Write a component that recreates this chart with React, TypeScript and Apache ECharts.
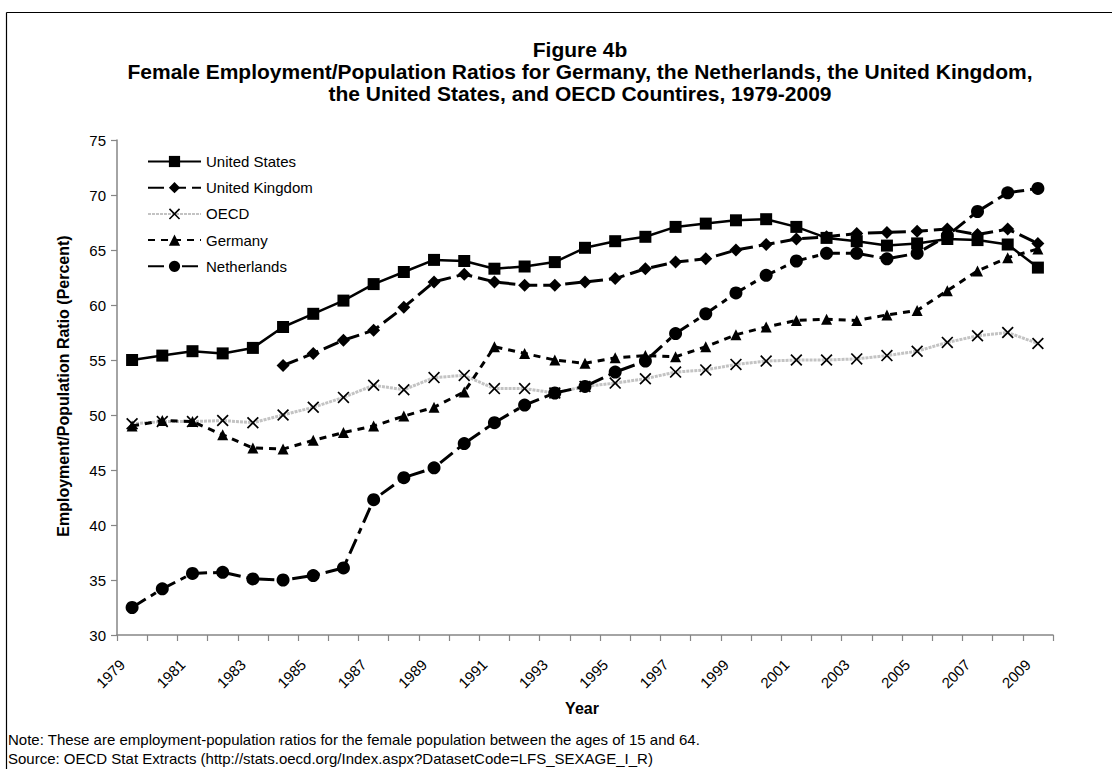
import React, { useEffect, useRef } from "react";
import * as echarts from "echarts";

const years = [
  "1979", "1980", "1981", "1982", "1983", "1984", "1985", "1986", "1987", "1988",
  "1989", "1990", "1991", "1992", "1993", "1994", "1995", "1996", "1997", "1998",
  "1999", "2000", "2001", "2002", "2003", "2004", "2005", "2006", "2007", "2008", "2009",
];

const unitedStates = [
  55.0, 55.4, 55.8, 55.6, 56.1, 58.0, 59.2, 60.4, 61.9, 63.0,
  64.1, 64.0, 63.3, 63.5, 63.9, 65.2, 65.8, 66.2, 67.1, 67.4,
  67.7, 67.8, 67.1, 66.1, 65.8, 65.4, 65.6, 66.0, 65.9, 65.5, 63.4,
];

const unitedKingdom = [
  null, null, null, null, null, 54.5, 55.6, 56.8, 57.7, 59.8,
  62.1, 62.8, 62.1, 61.8, 61.8, 62.1, 62.4, 63.3, 63.9, 64.2,
  65.0, 65.5, 66.0, 66.2, 66.5, 66.6, 66.7, 66.9, 66.4, 66.9, 65.6,
];

const oecd = [
  49.2, 49.4, 49.4, 49.5, 49.3, 50.0, 50.7, 51.6, 52.7, 52.3,
  53.4, 53.6, 52.4, 52.4, 52.0, 52.6, 52.9, 53.3, 53.9, 54.1,
  54.6, 54.9, 55.0, 55.0, 55.1, 55.4, 55.8, 56.6, 57.2, 57.5, 56.5,
];

const germany = [
  49.0, 49.5, 49.4, 48.2, 47.0, 46.9, 47.7, 48.4, 49.0, 49.9,
  50.7, 52.1, 56.2, 55.6, 55.0, 54.7, 55.2, 55.4, 55.3, 56.2,
  57.3, 58.0, 58.6, 58.7, 58.6, 59.1, 59.5, 61.3, 63.1, 64.3, 65.1,
];

const netherlands = [
  32.5, 34.2, 35.6, 35.7, 35.1, 35.0, 35.4, 36.1, 42.3, 44.3,
  45.2, 47.4, 49.3, 50.9, 52.0, 52.6, 53.9, 54.9, 57.4, 59.2,
  61.1, 62.7, 64.0, 64.7, 64.7, 64.2, 64.7, 66.3, 68.5, 70.2, 70.6,
];

const titleLines = [
  "Figure 4b",
  "Female Employment/Population Ratios for Germany, the Netherlands, the United Kingdom,",
  "the United States, and OECD Countires, 1979-2009",
];
const yAxisTitle = "Employment/Population Ratio (Percent)";
const xAxisTitle = "Year";
const noteLines = [
  "Note: These are employment-population ratios for the female population between the ages of 15 and 64.",
  "Source: OECD Stat Extracts (http://stats.oecd.org/Index.aspx?DatasetCode=LFS_SEXAGE_I_R)",
];

const FONT = "Liberation Sans, Arial, sans-serif";
const X_SYMBOL =
  "path://M0,1L1,0L5,4L9,0L10,1L6,5L10,9L9,10L5,6L1,10L0,9L4,5Z";

export default function App() {
  const ref = useRef<HTMLDivElement>(null);

  useEffect(() => {
    if (!ref.current) return;
    const chart = echarts.init(ref.current, null, { renderer: "svg" });

    const option: any = {
      animation: false,
      backgroundColor: "#ffffff",
      textStyle: { fontFamily: FONT },
      grid: { left: 117, top: 140, width: 936, height: 495, containLabel: false },
      legend: {
        orient: "vertical",
        left: 147,
        top: 154,
        padding: 0,
        itemWidth: 53,
        itemHeight: 14,
        itemGap: 11.2,
        textStyle: { fontSize: 15, lineHeight: 14, color: "#000", fontFamily: FONT },
        data: ["United States", "United Kingdom", "OECD", "Germany", "Netherlands"],
      },
      xAxis: {
        type: "category",
        data: years,
        boundaryGap: true,
        axisLine: { show: true, lineStyle: { color: "#868686", width: 1.5 } },
        axisTick: { show: true, interval: 0, length: 6, lineStyle: { color: "#868686", width: 1.2 } },
        axisLabel: {
          interval: 1,
          rotate: 45,
          fontSize: 15,
          color: "#000",
          fontFamily: FONT,
          margin: 17,
          padding: [0, 14, 0, 0],
        },
        splitLine: { show: false },
      },
      yAxis: {
        type: "value",
        min: 30,
        max: 75,
        interval: 5,
        axisLine: { show: true, lineStyle: { color: "#868686", width: 1.5 } },
        axisTick: { show: true, length: 6, lineStyle: { color: "#868686", width: 1.2 } },
        axisLabel: { fontSize: 15, color: "#000", fontFamily: FONT, margin: 11 },
        splitLine: { show: false },
      },
      series: [
        {
          name: "United States",
          type: "line",
          data: unitedStates,
          symbol: "rect",
          symbolSize: 12,
          lineStyle: { color: "#000", width: 2.5, type: "solid" },
          itemStyle: { color: "#000" },
          z: 2,
        },
        {
          name: "United Kingdom",
          type: "line",
          data: unitedKingdom,
          symbol: "diamond",
          symbolSize: 13,
          connectNulls: false,
          lineStyle: { color: "#000", width: 3, type: [16, 6] },
          itemStyle: { color: "#000" },
          z: 3,
        },
        {
          name: "OECD",
          type: "line",
          data: oecd,
          symbol: X_SYMBOL,
          symbolSize: 12,
          lineStyle: { color: "#c3c3c3", width: 3, type: [3, 1] },
          itemStyle: { color: "#000" },
          z: 4,
        },
        {
          name: "Germany",
          type: "line",
          data: germany,
          symbol: "triangle",
          symbolSize: 11,
          lineStyle: { color: "#000", width: 3, type: [7, 6] },
          itemStyle: { color: "#000" },
          z: 5,
        },
        {
          name: "Netherlands",
          type: "line",
          data: netherlands,
          symbol: "circle",
          symbolSize: 13,
          lineStyle: { color: "#000", width: 3, type: [16, 6, 6, 6] },
          itemStyle: { color: "#000" },
          z: 6,
        },
      ],
      graphic: [
        {
          type: "line",
          shape: { x1: 6.5, y1: 12.5, x2: 1112, y2: 12.5 },
          style: { stroke: "#000", lineWidth: 1.2 },
        },
        {
          type: "line",
          shape: { x1: 6.5, y1: 12.5, x2: 6.5, y2: 769 },
          style: { stroke: "#000", lineWidth: 1.2 },
        },
        ...titleLines.map((t, i) => ({
          type: "text",
          x: 580,
          y: 49 + i * 22,
          style: {
            text: t,
            font: `bold 21px ${FONT}`,
            fill: "#000",
            textAlign: "center",
            textVerticalAlign: "middle",
          },
        })),
        {
          type: "text",
          x: 63,
          y: 386,
          rotation: Math.PI / 2,
          style: {
            text: yAxisTitle,
            font: `bold 16px ${FONT}`,
            fill: "#000",
            textAlign: "center",
            textVerticalAlign: "middle",
          },
        },
        {
          type: "text",
          x: 582,
          y: 708,
          style: {
            text: xAxisTitle,
            font: `bold 16px ${FONT}`,
            fill: "#000",
            textAlign: "center",
            textVerticalAlign: "middle",
          },
        },
        ...noteLines.map((t, i) => ({
          type: "text",
          x: 8,
          y: 739 + i * 19,
          style: {
            text: t,
            font: `15px ${FONT}`,
            fill: "#000",
            textAlign: "left",
            textVerticalAlign: "middle",
          },
        })),
      ],
    };

    chart.setOption(option);
    return () => chart.dispose();
  }, []);

  return (
    <div
      ref={ref}
      style={{ position: "fixed", left: 0, top: 0, width: 1112, height: 769, background: "#fff" }}
    />
  );
}
